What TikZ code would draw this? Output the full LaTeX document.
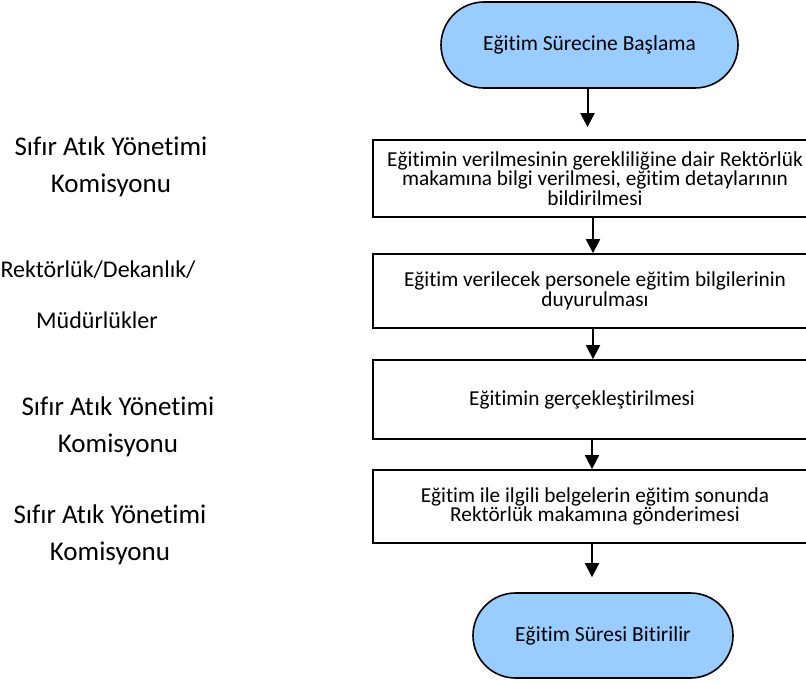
\documentclass[tikz,border=0pt]{standalone}
\usepackage{fontspec}
\setmainfont{Carlito}[Ligatures={NoCommon}]
\usetikzlibrary{arrows.meta,shapes.misc}
\definecolor{termblue}{RGB}{153,204,255}
\tikzset{
  term/.style={draw=black, line width=1.6pt, fill=termblue, rounded rectangle, inner sep=0pt,
     font=\fontsize{21.5}{24}\selectfont},
  procbox/.style={draw=black, line width=1.8pt, fill=white, inner sep=0pt, align=center,
     font=\fontsize{21.3}{18.4}\selectfont},
  lbl/.style={align=center, inner sep=0pt, font=\fontsize{27}{37}\selectfont},
  lblsmall/.style={align=center, inner sep=0pt, font=\fontsize{24}{30}\selectfont},
  arr/.style={line width=2pt, -{Triangle[width=14pt,length=14pt]}},
}
\begin{document}
\begin{tikzpicture}[x=1pt,y=-1pt]
\useasboundingbox (0,0) rectangle (806,684);
\node[term, minimum width=297pt, minimum height=86pt] (start) at (589.5,45) {Eğitim Sürecine Başlama};
\node[procbox, minimum width=444pt, minimum height=77pt] (b1) at (595,178.5)
  {Eğitimin verilmesinin gerekliliğine dair Rektörlük\\makamına bilgi verilmesi, eğitim detaylarının\\bildirilmesi};
\node[procbox, minimum width=444pt, minimum height=74pt] (b2) at (595,291)
  {Eğitim verilecek personele eğitim bilgilerinin\\duyurulması};
\node[procbox, minimum width=444pt, minimum height=79pt] (b3) at (595,399.5)
  {\hspace*{-26pt}Eğitimin gerçekleştirilmesi};
\node[procbox, minimum width=444pt, minimum height=73pt] (b4) at (595,506.5)
  {Eğitim ile ilgili belgelerin eğitim sonunda\\Rektörlük makamına gönderimesi};
\node[term, minimum width=260pt, minimum height=85pt] (end) at (603,635.5) {Eğitim Süresi Bitirilir};

\draw[arr, shorten >=12pt] ([xshift=-2pt]start.south) -- ([xshift=-2pt]start.south |- b1.north);
\draw[arr] ([xshift=-2pt]b1.south) -- ([xshift=-2pt]b2.north);
\draw[arr] ([xshift=-2pt]b2.south) -- ([xshift=-2pt]b3.north);
\draw[arr] ([xshift=-3pt]b3.south) -- ([xshift=-3pt]b4.north);
\draw[arr, shorten >=15pt] ([xshift=-3pt]b4.south) -- ([xshift=-3pt]b4.south |- end.north);

\node[lbl] (l1) at (111,166.5) {Sıfır Atık Yönetimi\\Komisyonu};
\node[lblsmall] (l2a) at (98,270) {Rektörlük/Dekanlık/};
\node[lblsmall] (l2b) at (97,320) {Müdürlükler};
\node[lbl] (l3) at (118,426.5) {Sıfır Atık Yönetimi\\Komisyonu};
\node[lbl] (l4) at (110,535) {Sıfır Atık Yönetimi\\Komisyonu};
\end{tikzpicture}
\end{document}
